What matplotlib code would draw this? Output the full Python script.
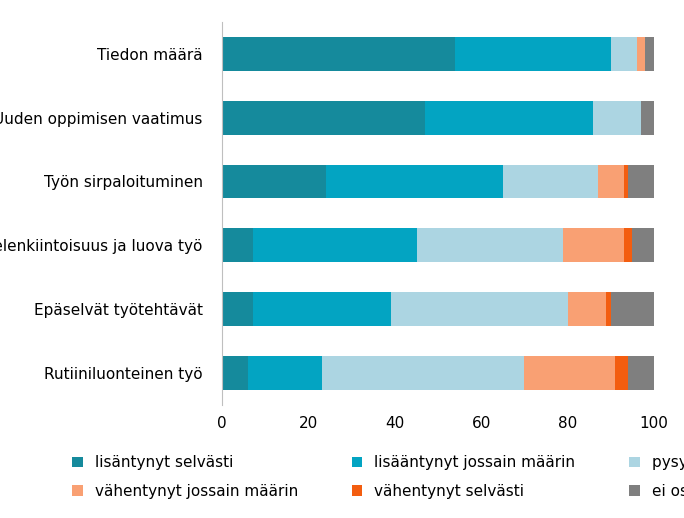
import matplotlib.pyplot as plt
import numpy as np

categories = ["Tiedon määrä", "Uuden oppimisen vaatimus", "Työn sirpaloituminen",
              "Mielenkiintoisuus ja luova työ", "Epäselvät työtehtävät", "Rutiiniluonteinen työ"]
series_names = ["lisäntynyt selvästi", "lisääntynyt jossain määrin", "pysynyt ennallaan",
                "vähentynyt jossain määrin", "vähentynyt selvästi", "ei osaa sanoa"]
lis_selv = [54, 47, 24, 7, 7, 6]
lis_joss = [36, 39, 41, 38, 32, 17]
pysynyt = [6, 11, 22, 34, 41, 47]
vah_joss = [2, 0, 6, 14, 9, 21]
vah_selv = [0, 0, 1, 2, 1, 3]
ei_osaa = [2, 3, 6, 5, 10, 6]
colors = ["#158a9c", "#03a4c2", "#acd5e2", "#f9a073", "#f35d10", "#7f7f7f"]

plt.rcParams["font.family"] = "Liberation Sans Narrow"
fig = plt.figure(figsize=(6.84, 5.18), dpi=100)
ax = fig.add_axes([0.325, 0.218, 0.631, 0.74])
y = np.arange(len(categories))
left = np.zeros(len(categories))
handles = []
for name, vals, c in zip(series_names, [lis_selv, lis_joss, pysynyt, vah_joss, vah_selv, ei_osaa], colors):
    h = ax.barh(y, vals, left=left, color=c, height=0.53, label=name)
    handles.append(h)
    left += np.array(vals)
ax.set_ylim(len(categories) - 0.5, -0.5)
ax.set_xlim(0, 100)
ax.set_yticks(y)
ax.set_yticklabels(categories, fontsize=11)
ax.set_xticks([0, 20, 40, 60, 80, 100])
ax.tick_params(axis='x', labelsize=11, length=0, pad=8)
ax.tick_params(axis='y', length=0, pad=14)
for s in ["top", "right", "bottom"]:
    ax.spines[s].set_visible(False)
ax.spines["left"].set_color("#bfbfbf")
order = [0, 3, 1, 4, 2, 5]
fig.legend([handles[i] for i in order], [series_names[i] for i in order],
           loc="lower left", bbox_to_anchor=(0.085, 0.01), ncol=3, frameon=False,
           fontsize=11, handlelength=0.7, handleheight=0.7, columnspacing=3.5,
           labelspacing=0.9)
fig.savefig("out.png", dpi=100)
